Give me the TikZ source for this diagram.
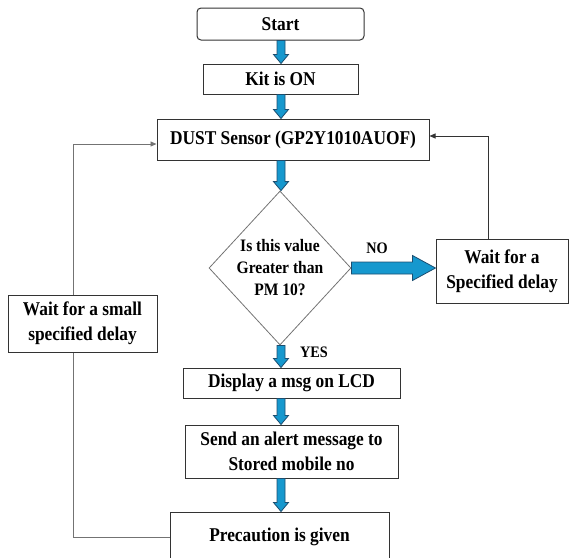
\documentclass[tikz,border=0pt]{standalone}
\usepackage{fontspec}
\setmainfont{Liberation Serif}[FakeStretch=0.89]
\usepackage{xcolor}
\usetikzlibrary{calc,arrows.meta,shapes.geometric}

\definecolor{flowblue}{RGB}{22,152,206}
\definecolor{flowedge}{RGB}{28,78,112}

% thick blue arrow between two nodes
\newcommand{\flowdown}[2]{%
\draw[flow] let \p1=(#1.south), \p2=(#2.north), \p3=(axis) in
  (\x3-4pt,\y1) -- (\x3+4pt,\y1) -- (\x3+4pt,\y2+9pt) -- (\x3+7.5pt,\y2+9pt)
  -- (\x3,\y2) -- (\x3-7.5pt,\y2+9pt) -- (\x3-4pt,\y2+9pt) -- cycle;}
\newcommand{\flowright}[2]{%
\draw[flow] let \p1=(#1.east), \p2=(#2.west) in
  (\x1,\y1+6pt) -- (\x2-23pt,\y1+6pt) -- (\x2-23pt,\y1+12.5pt)
  -- (\x2,\y1) -- (\x2-23pt,\y1-12.5pt) -- (\x2-23pt,\y1-6pt) -- (\x1,\y1-6pt) -- cycle;}

\begin{document}
\begin{tikzpicture}[x=1pt,y=-1pt,
box/.style={draw=black!80,line width=1pt,fill=white,inner sep=0pt,align=center,
  font=\fontsize{19.5}{25}\selectfont\bfseries},
flow/.style={draw=flowedge,line width=0.8pt,fill=flowblue},
loopline/.style={line width=0.9pt,-{Triangle[length=6pt,width=5pt]}},
lbl/.style={font=\fontsize{16}{18}\selectfont\bfseries}
]
\clip (0,0) rectangle (569,557);
\coordinate (axis) at (281,0);

\node[box,rounded corners=4pt,minimum width=167pt,minimum height=32pt](start) at (280.5,24) {Start};
\node[box,minimum width=155pt,minimum height=30pt](kit) at (280.5,79) {Kit is ON};
\node[box,minimum width=272pt,minimum height=41pt](dust) at (293,139.5) {DUST Sensor (GP2Y1010AUOF)};
\node[diamond,draw=black!55,line width=0.8pt,inner sep=0pt,aspect=0.92,
  minimum width=142pt,minimum height=154pt,align=center,
  font=\fontsize{17.5}{22}\selectfont\bfseries](dec) at (280,268) {Is this value\\Greater than\\PM 10?};
\node[box,minimum width=132pt,minimum height=64pt](waitr) at (502,271) {Wait for a\\Specified delay};
\node[box,minimum width=217pt,minimum height=30pt](disp) at (291.5,383) {Display a msg on LCD};
\node[box,minimum width=213pt,minimum height=53pt](send) at (291.5,451.5) {Send an alert message to\\Stored mobile no};
\node[box,minimum width=219pt,minimum height=50pt](prec) at (279.5,537) {Precaution is given};

\node[lbl](no) at (377,248) {NO};
\node[lbl](yes) at (314,352) {YES};

\flowdown{start}{kit}
\flowdown{kit}{dust}
\flowdown{dust}{dec}
\flowdown{dec}{disp}
\flowdown{disp}{send}
\flowdown{send}{prec}
\flowright{dec}{waitr}

% loops back to the sensor
\coordinate (rtop) at ([xshift=-14pt]waitr.north);
\draw[loopline,draw=black!80] (rtop) -- (488,136) -- ([yshift=3.5pt]dust.east);
\draw[loopline,draw=black!55] (prec.west) -- (73,537) -- (73,144) -- ([yshift=-4.5pt]dust.west);
\node[box,minimum width=149pt,minimum height=57pt](waitl) at (82.5,323.5) {Wait for a small\\specified delay};

\end{tikzpicture}
\end{document}
